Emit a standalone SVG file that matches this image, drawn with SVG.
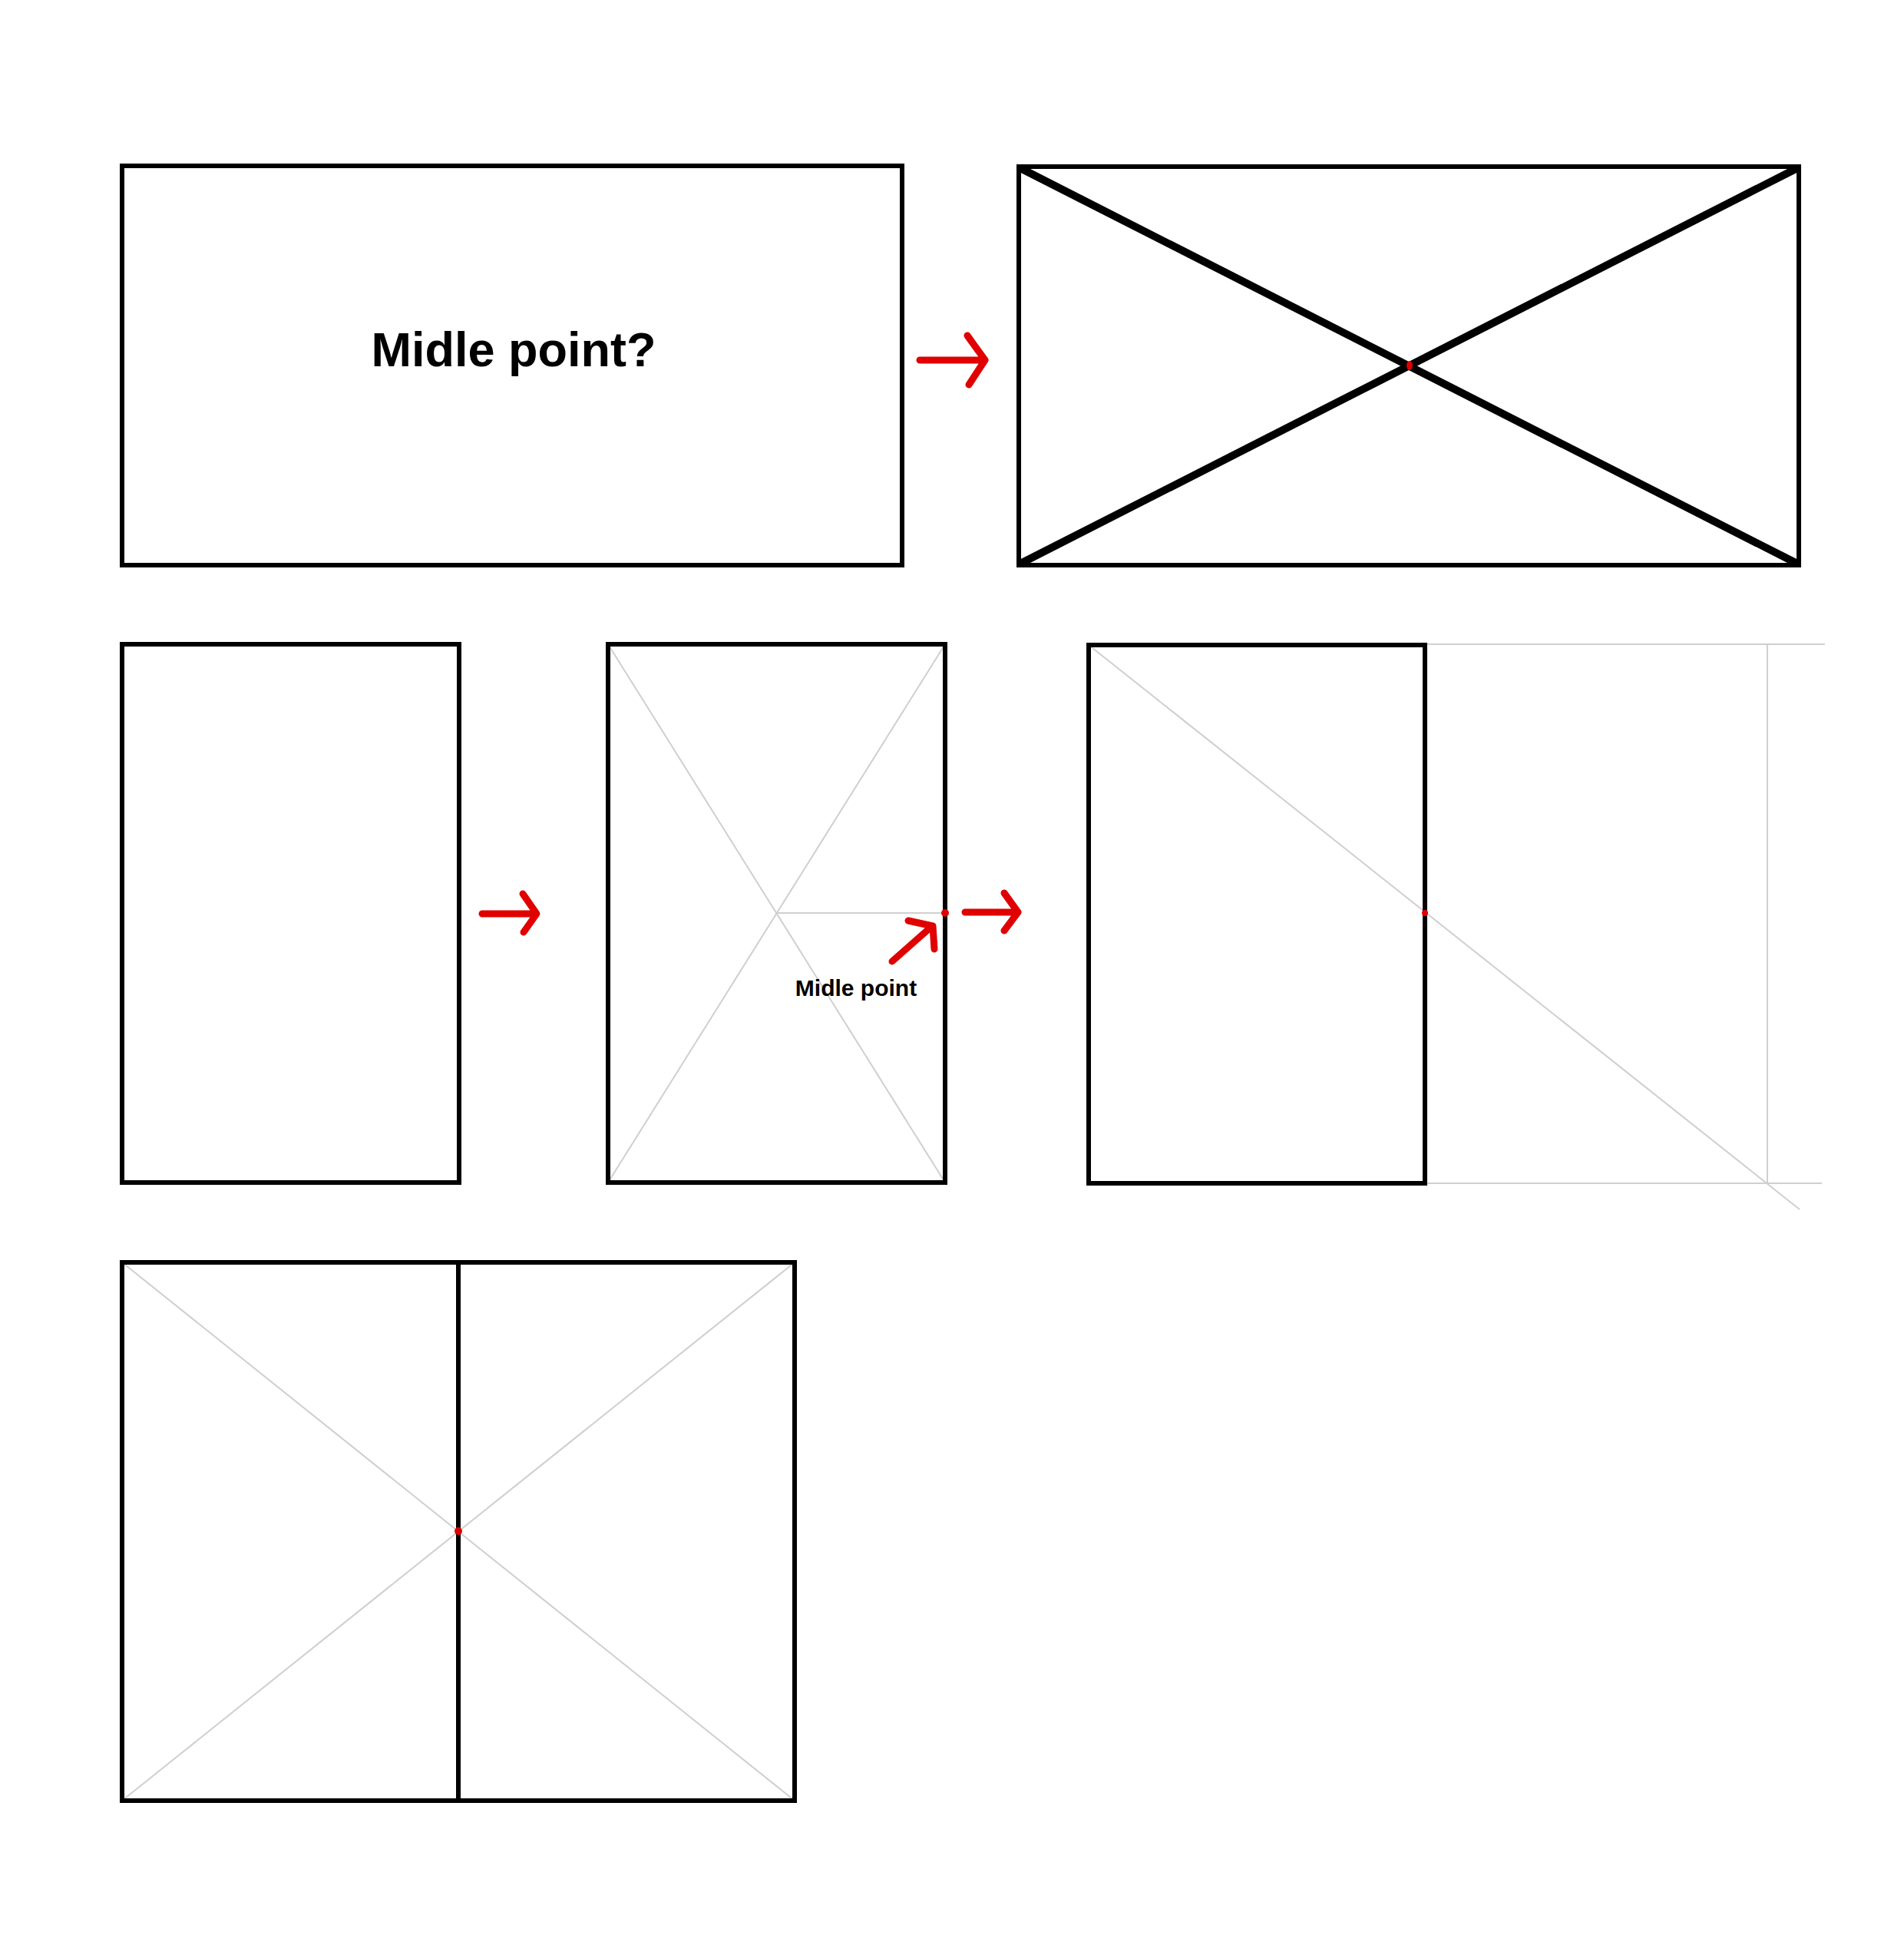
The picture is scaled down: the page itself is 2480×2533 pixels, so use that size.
<svg xmlns="http://www.w3.org/2000/svg" width="2480" height="2533" viewBox="0 0 2480 2533">
<style>
.box{fill:none;stroke:#000;stroke-width:6}
.diag{stroke:#000;stroke-width:10;fill:none}
.guide{stroke:#cfcfcf;stroke-width:2;fill:none}
.arrow{stroke:#e00000;stroke-width:9;fill:none;stroke-linecap:round;stroke-linejoin:round}
.dot{fill:#e00000}
.lbl{font-family:"Liberation Sans",Arial,sans-serif;font-weight:bold;fill:#000}
</style>
<rect width="2480" height="2533" fill="#fff"/>
<g id="step1">
<rect class="box" x="159" y="216" width="1016" height="520"/>
<text class="lbl" x="669" y="477" font-size="63" text-anchor="middle">Midle point?</text>
</g>
<g id="step2">
<rect class="box" x="1327" y="217" width="1016" height="519"/>
<line class="diag" x1="1329" y1="219" x2="2341" y2="734"/>
<line class="diag" x1="1329" y1="734" x2="2341" y2="219"/>
<ellipse class="dot" cx="1836" cy="476" rx="4" ry="6"/>
</g>
<g id="step3">
<rect class="box" x="159" y="839" width="439" height="701"/>
</g>
<g id="step4">
<line class="guide" x1="792" y1="839" x2="1231" y2="1540"/>
<line class="guide" x1="1231" y1="839" x2="792" y2="1540"/>
<line class="guide" x1="1012" y1="1189" x2="1231" y2="1189"/>
<rect class="box" x="792" y="839" width="439" height="701"/>
<circle class="dot" cx="1231" cy="1189" r="5"/>
<text class="lbl" x="1115" y="1297" font-size="30" text-anchor="middle">Midle point</text>
</g>
<g id="step5">
<line class="guide" x1="1856" y1="839" x2="2377" y2="839"/>
<line class="guide" x1="2302" y1="839" x2="2302" y2="1541"/>
<line class="guide" x1="1856" y1="1541" x2="2373" y2="1541"/>
<line class="guide" x1="1418" y1="840" x2="2344" y2="1575"/>
<rect class="box" x="1418" y="840" width="438" height="701"/>
<circle class="dot" cx="1856" cy="1189" r="4"/>
</g>
<g id="step6">
<line class="guide" x1="159" y1="1644" x2="1035" y2="2345"/>
<line class="guide" x1="1035" y1="1644" x2="159" y2="2345"/>
<rect class="box" x="159" y="1644" width="876" height="701"/>
<line class="box" x1="597" y1="1644" x2="597" y2="2345"/>
<circle class="dot" cx="597" cy="1994" r="5"/>
</g>
<g id="connectors">
<path class="arrow" d="M1198 469 H1281 M1260 437 L1283 469 L1262 501"/>
<path class="arrow" d="M628 1190 H698 M681 1164 L699 1190 L682 1214"/>
<path class="arrow" d="M1162 1252 L1213 1207 M1183 1199 L1215 1206 L1217 1236"/>
<path class="arrow" d="M1257 1188 H1323 M1308 1163 L1326 1188 L1308 1212"/>
</g>
</svg>
